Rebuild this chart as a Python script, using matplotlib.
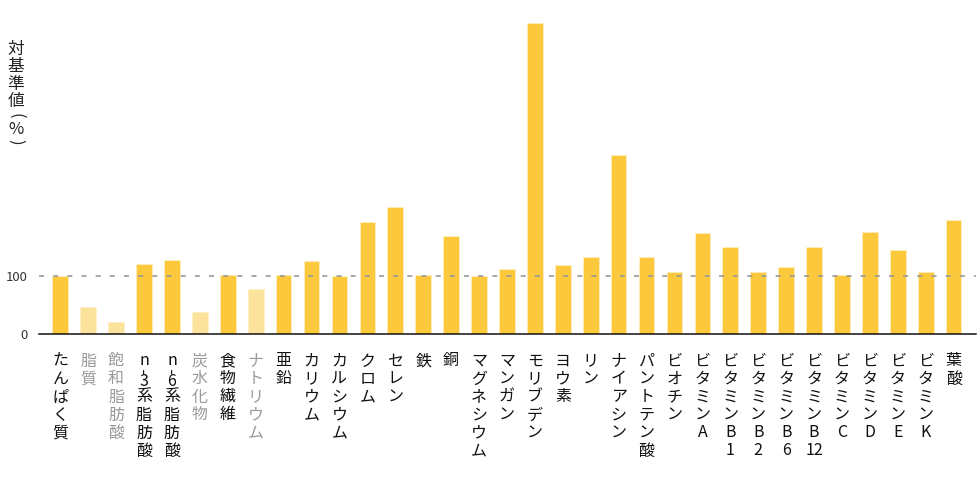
import re
import matplotlib
matplotlib.use('Agg')
import matplotlib.pyplot as plt
from matplotlib.transforms import offset_copy

plt.rcParams['font.family'] = ['Noto Sans CJK JP', 'DejaVu Sans']

# nutrient names (drawn top-to-bottom under each bar)
nutrients = ['たんぱく質', '脂質', '飽和脂肪酸', 'n-3系脂肪酸', 'n-6系脂肪酸', '炭水化物',
             '食物繊維', 'ナトリウム', '亜鉛', 'カリウム', 'カルシウム', 'クロム', 'セレン',
             '鉄', '銅', 'マグネシウム', 'マンガン', 'モリブデン', 'ヨウ素', 'リン',
             'ナイアシン', 'パントテン酸', 'ビオチン', 'ビタミンA', 'ビタミンB1',
             'ビタミンB2', 'ビタミンB6', 'ビタミンB12', 'ビタミンC', 'ビタミンD',
             'ビタミンE', 'ビタミンK', '葉酸']
# ratio to the reference intake (%)
ratios = [100, 46, 21, 120, 127, 38, 101, 77, 102, 125, 100, 193, 218,
          101, 168, 100, 111, 533, 118, 132, 307, 132, 106, 174, 150,
          107, 115, 150, 102, 175, 144, 106, 195]
# nutrients shown in muted colour
muted = ['脂質', '飽和脂肪酸', '炭水化物', 'ナトリウム']
ylabel = '対基準値(%)'

BAR = '#FCC83C'
BAR_MUTED = '#FCE39B'

fig = plt.figure(figsize=(9.8, 4.9), dpi=100)
ax = fig.add_axes([0.0393, 0.3184, 0.9566, 0.661])

xs = list(range(len(nutrients)))
colors = [BAR_MUTED if n in muted else BAR for n in nutrients]
ax.bar(xs, ratios, width=0.56, color=colors, edgecolor='#FFEFC4', linewidth=0.5, zorder=2)
ax.axhline(100, color='#999999', lw=1.2, dashes=(3, 5.5), zorder=3)

ax.set_xlim(-0.78, 32.8)
ax.set_ylim(0, 556)
ax.set_xticks([])
ax.set_yticks([0, 100])
ax.tick_params(axis='y', length=0, pad=8, labelsize=9.5, labelcolor='#333333')
for s in ['top', 'right', 'left']:
    ax.spines[s].set_visible(False)
ax.spines['bottom'].set_linewidth(1.1)
ax.spines['bottom'].set_color('#111111')


def row_height(tok, prev):
    if tok == '-':
        return 8
    if tok == 'n':
        return 12
    if tok.isdigit() and prev == '-':
        return 13
    return 18


# vertical (stacked) category labels
base = ax.get_xaxis_transform()
for i, name in enumerate(nutrients):
    col = '#9a9a9a' if name in muted else '#111111'
    toks = re.findall(r'\d+|.', name)
    y = 27.0
    prev_h = None
    prev = None
    for tok in toks:
        h = row_height(tok, prev)
        if prev_h is not None:
            y += (prev_h + h) / 2
        tr = offset_copy(base, fig=fig, x=0, y=-y, units='dots')
        # hyphen is turned upright, as in vertical typesetting
        ax.text(i, 0, tok, transform=tr, ha='center', va='center',
                fontsize=11.5, color=col, rotation=90 if tok == '-' else 0)
        prev_h = h
        prev = tok

# stacked y-axis title
y = 49.0
prev_h = None
for ch in ylabel:
    h = 12 if ch in '()' else (14 if ch == '%' else 17.5)
    if prev_h is not None:
        y += (prev_h + h) / 2
    rot = -90 if ch in '()' else 0
    fig.text(16 / 980, 1 - y / 490, ch, ha='center', va='center',
             fontsize=12, rotation=rot, color='#222222')
    prev_h = h

fig.savefig('out.png', dpi=100)
